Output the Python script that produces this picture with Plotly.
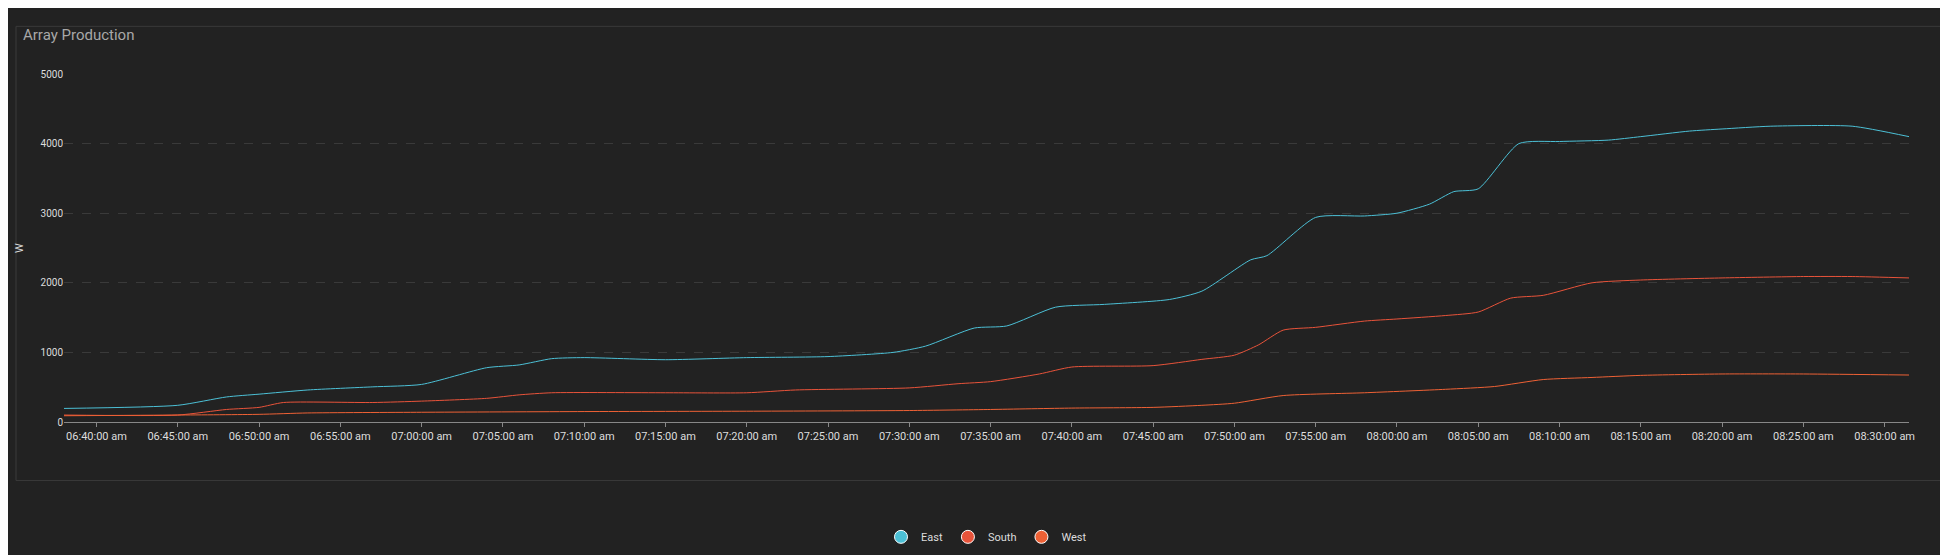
import plotly.graph_objects as go

day = "2024-01-01 "
east_t = ["06:38","06:45","06:48","06:50","06:53","06:57","07:00","07:04","07:06","07:08","07:10","07:15","07:20","07:25","07:29","07:31","07:34","07:36","07:39","07:42","07:46","07:48","07:51","07:52","07:55","07:58","08:00","08:02","08:03:30","08:05","08:07:30","08:10","08:13","08:15","08:18","08:20","08:23","08:28","08:31:30"]
east_v = [195,240,360,400,460,505,540,780,820,910,925,895,925,940,1000,1090,1350,1380,1650,1690,1760,1880,2330,2390,2940,2960,3000,3130,3310,3350,4000,4030,4050,4100,4180,4210,4250,4250,4100]
south_t = ["06:38","06:45","06:48","06:50","06:51:30","06:57","07:00","07:04","07:06","07:08","07:15","07:20","07:23","07:30","07:33","07:35","07:38","07:40","07:45","07:48","07:50","07:51:30","07:53","07:55","07:58","08:00","08:03","08:05","08:07","08:09","08:12","08:15","08:20","08:25","08:28","08:31:30"]
south_v = [100,100,180,210,280,280,300,340,390,420,420,420,460,490,550,580,690,790,810,900,960,1110,1320,1360,1450,1480,1530,1580,1780,1820,2000,2040,2070,2090,2090,2070]
west_t = ["06:38","06:45","06:50","06:53","07:00","07:10","07:20","07:30","07:35","07:40","07:45","07:48","07:50","07:53","07:58","08:03","08:06","08:09","08:12","08:15","08:20","08:25","08:31:30"]
west_v = [90,100,110,130,140,150,155,165,180,200,210,240,270,380,420,470,510,610,640,670,690,690,675]

tick_t = ["06:40","06:45","06:50","06:55","07:00","07:05","07:10","07:15","07:20","07:25","07:30","07:35","07:40","07:45","07:50","07:55","08:00","08:05","08:10","08:15","08:20","08:25","08:30"]
tick_labels = [t + ":00 am" for t in tick_t]

def ts(lst):
    return [day + (t if t.count(":") == 2 else t + ":00") for t in lst]

series = [("East", east_t, east_v, "#4cc0d6"), ("South", south_t, south_v, "#e8533a"), ("West", west_t, west_v, "#ee6135")]

fig = go.Figure()
for name, t, v, c in series:
    fig.add_trace(go.Scatter(x=ts(t), y=v, mode="lines", line=dict(color=c, width=1, shape="spline", smoothing=0.6),
                             name=name, showlegend=False))
for name, t, v, c in series:
    fig.add_trace(go.Scatter(x=[None], y=[None], mode="markers", name=name,
                             marker=dict(color=c, size=13, line=dict(color="#ffffff", width=1))))

fig.update_layout(
    width=1948, height=555,
    paper_bgcolor="#222222", plot_bgcolor="#222222",
    margin=dict(l=56, r=47, t=66, b=73),
    font=dict(family="Roboto", color="#dddddd", size=11),
    title=dict(text="Array Production", x=15/1948, xref="container", xanchor="left", y=1-27/555, yanchor="middle",
               font=dict(size=15, color="#a8a8a8")),
    legend=dict(orientation="h", x=0.5, xanchor="center", y=-0.33, yanchor="middle",
                font=dict(size=11, color="#dddddd"), itemwidth=30, tracegroupgap=0),
    xaxis=dict(range=[day + "06:38:00", day + "08:31:30"], tickvals=ts(tick_t), ticktext=tick_labels,
               showgrid=False, showline=True, linecolor="#888888", ticks="outside", tickcolor="#888888", ticklen=4,
               zeroline=False, tickfont=dict(size=11, color="#dddddd")),
    yaxis=dict(range=[0, 5000], tickvals=[0, 1000, 2000, 3000, 4000, 5000], showgrid=True, gridcolor="#3a3a3a",
               griddash="dash", zeroline=False, title=dict(text="W", font=dict(size=11, color="#dddddd"), standoff=14),
               tickfont=dict(size=10, color="#dddddd")),
)
fig.add_shape(type="rect", xref="paper", yref="paper",
              x0=(8-56)/1845, x1=(1938-56)/1845, y0=-(73-3)/416, y1=1+(66-9)/416,
              fillcolor="rgba(0,0,0,0)", line=dict(color="#3a3a3a", width=1), layer="below")
fig.write_html("out.html")
